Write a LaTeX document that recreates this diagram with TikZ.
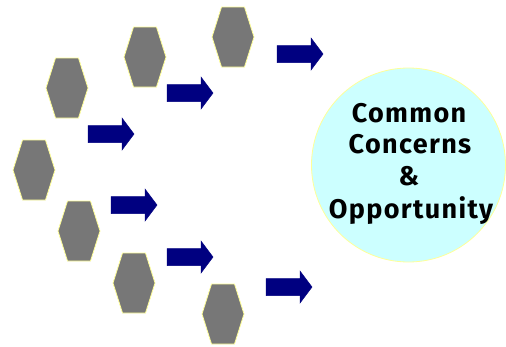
\documentclass[tikz,border=0pt]{standalone}
\usepackage{fontspec}
\newfontfamily\labelfont{Fira Sans}[LetterSpace=5]
\definecolor{hexgray}{HTML}{777777}
\definecolor{hexedge}{HTML}{FFFF99}
\definecolor{arrnavy}{HTML}{000080}
\definecolor{goalfill}{HTML}{CCFFFF}
\tikzset{
  hexshape/.style={fill=hexgray, draw=hexedge, line width=0.8pt, line join=round},
  arrshape/.style={fill=arrnavy, draw=arrnavy, line width=0.5pt},
  goalcircle/.style={circle, fill=goalfill, draw=hexedge, line width=0.8pt, minimum size=194pt, inner sep=0pt},
  goaltext/.style={font=\labelfont\bfseries\fontsize{27}{32}\selectfont, anchor=base, inner sep=0pt},
  pics/hexa/.style={code={
    \path[hexshape] (-11.5,-30) -- (11.5,-30) -- (21,0) -- (11.5,30) -- (-11.5,30) -- (-21,0) -- cycle;
  }},
  pics/fwd/.style={code={
    \path[arrshape] (-23,-8.5) -- (11,-8.5) -- (11,-16) -- (23,0) -- (11,16) -- (11,8.5) -- (-23,8.5) -- cycle;
  }}
}
\begin{document}
\begin{tikzpicture}[x=1pt, y=-1pt]
\useasboundingbox (0,0) rectangle (506,346);
% hexagons
\pic (hA) at (67,88) {hexa};
\pic (hB) at (145,57) {hexa};
\pic (hC) at (233,37) {hexa};
\pic (hD) at (34,170) {hexa};
\pic (hE) at (79,231) {hexa};
\pic (hF) at (134,283) {hexa};
\pic (hG) at (223,314) {hexa};
% arrows
\pic (a1) at (111,134) {fwd};
\pic (a2) at (190,93) {fwd};
\pic (a3) at (300,54) {fwd};
\pic (a4) at (134,205) {fwd};
\pic (a5) at (190,257) {fwd};
\pic (a6) at (289,287) {fwd};
% goal
\node[goalcircle] (goal) at (408.5,165) {};
\node[goaltext] (t1) at (409,122) {Common};
\node[goaltext] (t2) at (410,153) {Concerns};
\node[goaltext] (t3) at (409,185) {\&};
\node[goaltext] (t4) at (411,218) {Opportunity};
\end{tikzpicture}
\end{document}
